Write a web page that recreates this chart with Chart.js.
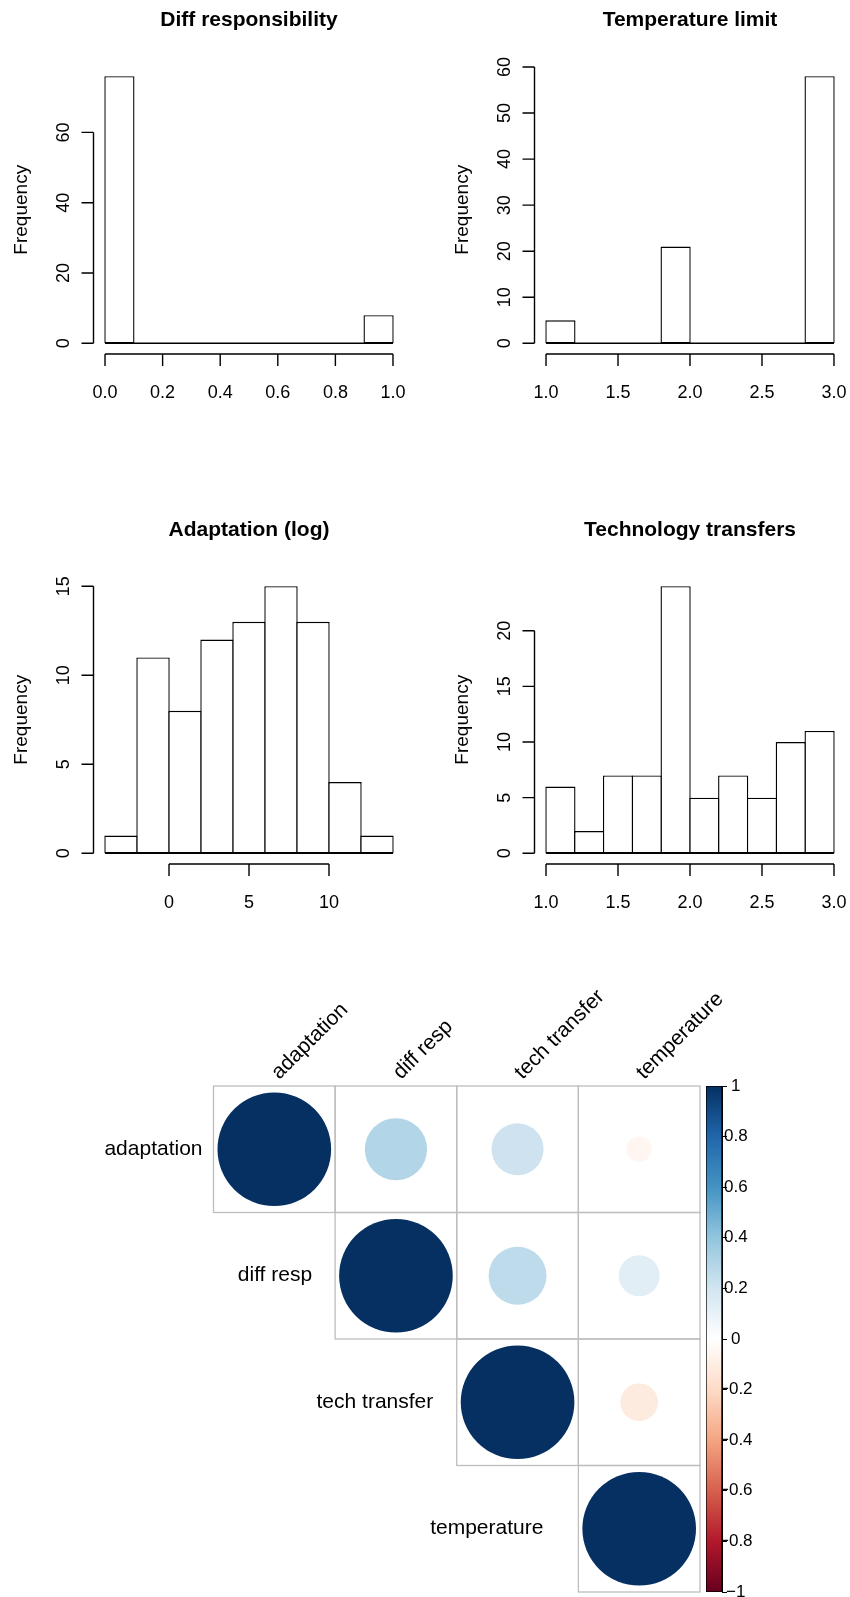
<!DOCTYPE html>
<html>
<head>
<meta charset="utf-8">
<script src="https://cdn.jsdelivr.net/npm/chart.js@4.4.1/dist/chart.umd.min.js"></script>
<style>
  html, body { margin: 0; padding: 0; background: #fff; overflow: hidden; }
  body { position: relative; width: 850px; height: 1597px; }
  canvas { position: absolute; }
</style>
</head>
<body>
<canvas id="histDiff" width="425" height="440" style="left:0px;top:0px"></canvas>
<canvas id="histTemp" width="425" height="440" style="left:425px;top:0px"></canvas>
<canvas id="histAdapt" width="425" height="440" style="left:0px;top:510px"></canvas>
<canvas id="histTech" width="425" height="440" style="left:425px;top:510px"></canvas>
<canvas id="corrPlot" width="850" height="657" style="left:0px;top:940px"></canvas>
<canvas id="corrBar" width="150" height="560" style="left:700px;top:1060px"></canvas>
<script>
// histogram data (breaks, counts, axis ticks)
const diffBreaks = [0, 0.1, 0.2, 0.3, 0.4, 0.5, 0.6, 0.7, 0.8, 0.9, 1.0];
const diffCounts = [76, 0, 0, 0, 0, 0, 0, 0, 0, 8];
const diffXTicks = [0, 0.2, 0.4, 0.6, 0.8, 1.0];
const diffXLabels = ['0.0', '0.2', '0.4', '0.6', '0.8', '1.0'];
const diffYTicks = [0, 20, 40, 60];

const tempBreaks = [1.0, 1.2, 1.4, 1.6, 1.8, 2.0, 2.2, 2.4, 2.6, 2.8, 3.0];
const tempCounts = [5, 0, 0, 0, 21, 0, 0, 0, 0, 58];
const tempXTicks = [1.0, 1.5, 2.0, 2.5, 3.0];
const tempXLabels = ['1.0', '1.5', '2.0', '2.5', '3.0'];
const tempYTicks = [0, 10, 20, 30, 40, 50, 60];

const adaptBreaks = [-4, -2, 0, 2, 4, 6, 8, 10, 12, 14];
const adaptCounts = [1, 11, 8, 12, 13, 15, 13, 4, 1];
const adaptXTicks = [0, 5, 10];
const adaptXLabels = ['0', '5', '10'];
const adaptYTicks = [0, 5, 10, 15];

const techBreaks = [1.0, 1.2, 1.4, 1.6, 1.8, 2.0, 2.2, 2.4, 2.6, 2.8, 3.0];
const techCounts = [6, 2, 7, 7, 24, 5, 7, 5, 10, 11];
const techXTicks = [1.0, 1.5, 2.0, 2.5, 3.0];
const techXLabels = ['1.0', '1.5', '2.0', '2.5', '3.0'];
const techYTicks = [0, 5, 10, 15, 20];

// correlation matrix
const corrVars = ['adaptation', 'diff resp', 'tech transfer', 'temperature'];
const corrAdaptation = [1.00, 0.30, 0.21, -0.05];
const corrDiffResp = [0.30, 1.00, 0.26, 0.13];
const corrTechTransfer = [0.21, 0.26, 1.00, -0.11];
const corrTemperature = [-0.05, 0.13, -0.11, 1.00];
const colorTicks = [-1, -0.8, -0.6, -0.4, -0.2, 0, 0.2, 0.4, 0.6, 0.8, 1];

const rdbu = ['#67001F', '#B2182B', '#D6604D', '#F4A582', '#FDDBC7', '#FFFFFF',
  '#D1E5F0', '#92C5DE', '#4393C3', '#2166AC', '#053061'];

const FONT = '"Liberation Sans", Arial, Helvetica, sans-serif';
Chart.defaults.font.family = FONT;
Chart.defaults.color = '#000';
Chart.defaults.animation = false;
Chart.defaults.events = [];
Chart.defaults.plugins.legend.display = false;
Chart.defaults.plugins.tooltip.enabled = false;

const LW = 1.4;
const AREA_W = 311;

// R style axes, title and y label
const rAxes = {
  id: 'rAxes',
  afterDraw(chart, args, o) {
    const {ctx, chartArea: a, scales: {x, y}} = chart;
    ctx.save();
    ctx.strokeStyle = '#000';
    ctx.fillStyle = '#000';
    ctx.lineWidth = LW;

    // x axis
    const xs = o.xTicks.map(v => x.getPixelForValue(v));
    ctx.beginPath();
    ctx.moveTo(xs[0], a.bottom);
    ctx.lineTo(xs[xs.length - 1], a.bottom);
    xs.forEach(px => { ctx.moveTo(px, a.bottom); ctx.lineTo(px, a.bottom + 12); });
    // y axis
    const ys = o.yTicks.map(v => y.getPixelForValue(v));
    ctx.moveTo(a.left, ys[0]);
    ctx.lineTo(a.left, ys[ys.length - 1]);
    ys.forEach(py => { ctx.moveTo(a.left, py); ctx.lineTo(a.left - 12, py); });
    ctx.stroke();

    ctx.font = '18px ' + FONT;
    ctx.textAlign = 'center';
    ctx.textBaseline = 'alphabetic';
    xs.forEach((px, i) => ctx.fillText(o.xLabels[i], px, a.bottom + 44));
    ys.forEach((py, i) => {
      ctx.save();
      ctx.translate(a.left - 24.5, py);
      ctx.rotate(-Math.PI / 2);
      ctx.fillText(String(o.yTicks[i]), 0, 0);
      ctx.restore();
    });

    ctx.save();
    ctx.font = '19px ' + FONT;
    ctx.translate(a.left - 66.5, (a.top + a.bottom) / 2);
    ctx.rotate(-Math.PI / 2);
    ctx.fillText('Frequency', 0, 0);
    ctx.restore();

    ctx.font = 'bold 21px ' + FONT;
    ctx.fillText(o.title, (a.left + a.right) / 2, a.top - 39.5);
    ctx.restore();
  }
};

function makeHist(id, title, breaks, counts, xTicks, xLabels, yTicks, padLeft) {
  const b0 = breaks[0], bn = breaks[breaks.length - 1];
  const xr = bn - b0;
  const maxC = Math.max(...counts);
  const binW = breaks[1] - breaks[0];
  const canvas = document.getElementById(id);
  return new Chart(canvas, {
    type: 'bar',
    data: {
      datasets: [
        {
          type: 'line',
          data: [{x: b0, y: 0}, {x: bn, y: 0}],
          borderColor: '#000',
          borderWidth: LW,
          pointRadius: 0,
          order: 0,
        },
        {
          data: counts.map((c, k) => ({x: (breaks[k] + breaks[k + 1]) / 2, y: c})),
          backgroundColor: '#fff',
          borderColor: '#000',
          borderWidth: LW,
          borderSkipped: false,
          categoryPercentage: 1,
          barPercentage: 1 + LW * (xr * 1.08) / (binW * AREA_W),
          order: 1,
        },
      ],
    },
    options: {
      responsive: false,
      layout: {
        padding: {left: padLeft, right: canvas.width - padLeft - AREA_W, top: 65.5, bottom: canvas.height - 354},
      },
      scales: {
        x: {
          type: 'linear',
          display: false,
          offset: false,
          grid: {offset: false},
          min: b0 - 0.04 * xr,
          max: bn + 0.04 * xr,
          afterBuildTicks: s => { s.ticks = xTicks.map(v => ({value: v})); },
        },
        y: {
          type: 'linear',
          display: false,
          min: -0.04 * maxC,
          max: 1.04 * maxC,
        },
      },
      plugins: {
        rAxes: {title, xTicks, xLabels, yTicks},
      },
    },
    plugins: [rAxes],
  });
}

makeHist('histDiff', 'Diff responsibility', diffBreaks, diffCounts, diffXTicks, diffXLabels, diffYTicks, 93.5);
makeHist('histTemp', 'Temperature limit', tempBreaks, tempCounts, tempXTicks, tempXLabels, tempYTicks, 109.5);
makeHist('histAdapt', 'Adaptation (log)', adaptBreaks, adaptCounts, adaptXTicks, adaptXLabels, adaptYTicks, 93.5);
makeHist('histTech', 'Technology transfers', techBreaks, techCounts, techXTicks, techXLabels, techYTicks, 109.5);

// --- correlation plot ---
function hexToRgb(h) {
  return [parseInt(h.slice(1, 3), 16), parseInt(h.slice(3, 5), 16), parseInt(h.slice(5, 7), 16)];
}
function colorFor(v) {
  const t = (v + 1) / 2 * (rdbu.length - 1);
  const i = Math.min(Math.floor(t), rdbu.length - 2);
  const f = t - i;
  const c0 = hexToRgb(rdbu[i]), c1 = hexToRgb(rdbu[i + 1]);
  const c = c0.map((a, k) => Math.round(a + (c1[k] - a) * f));
  return 'rgb(' + c.join(',') + ')';
}

const corrRows = [corrAdaptation, corrDiffResp, corrTechTransfer, corrTemperature];
const corrPoints = [];
corrRows.forEach((row, i) => {
  row.forEach((v, j) => {
    if (j >= i) corrPoints.push({x: j + 1, y: i + 1, v: v});
  });
});

const rowLabelGap = [11, 23, 23.5, 35];

const corrDecor = {
  id: 'corrDecor',
  beforeDatasetsDraw(chart) {
    const {ctx, scales: {x, y}} = chart;
    ctx.save();
    ctx.strokeStyle = '#BEBEBE';
    ctx.lineWidth = 1.3;
    corrVars.forEach((_, i) => {
      for (let j = i; j < corrVars.length; j++) {
        const x0 = x.getPixelForValue(j + 0.5), x1 = x.getPixelForValue(j + 1.5);
        const y0 = y.getPixelForValue(i + 0.5), y1 = y.getPixelForValue(i + 1.5);
        ctx.strokeRect(x0, y0, x1 - x0, y1 - y0);
      }
    });
    ctx.restore();
  },
  afterDraw(chart) {
    const {ctx, chartArea: a, scales: {x, y}} = chart;
    ctx.save();
    ctx.fillStyle = '#000';
    ctx.font = '21px ' + FONT;
    ctx.textBaseline = 'alphabetic';
    ctx.textAlign = 'right';
    corrVars.forEach((name, i) => {
      ctx.fillText(name, x.getPixelForValue(i + 0.5) - rowLabelGap[i], y.getPixelForValue(i + 1) + 5.5);
    });
    ctx.textAlign = 'left';
    corrVars.forEach((name, j) => {
      ctx.save();
      ctx.translate(x.getPixelForValue(j + 1) + 5, a.top - 6);
      ctx.rotate(-Math.PI / 4);
      ctx.fillText(name, 0, 0);
      ctx.restore();
    });
    ctx.restore();
  }
};

function corrValue(ctx) {
  return ctx && ctx.raw && typeof ctx.raw.v === 'number' ? ctx.raw.v : 0;
}
function corrRadius(ctx) {
  const sc = ctx.chart.scales;
  if (!sc || !sc.x || !sc.y) return 0;
  const cw = Math.abs(sc.x.getPixelForValue(1.5) - sc.x.getPixelForValue(0.5));
  const ch = Math.abs(sc.y.getPixelForValue(1.5) - sc.y.getPixelForValue(0.5));
  const r = 0.458 * (cw + ch) / 2 * Math.sqrt(Math.abs(corrValue(ctx)));
  return isFinite(r) ? r : 0;
}

new Chart(document.getElementById('corrPlot'), {
  type: 'scatter',
  data: {
    datasets: [{
      data: corrPoints,
      showLine: false,
      clip: false,
      pointStyle: 'circle',
      pointBorderWidth: 0,
      pointHoverBorderWidth: 0,
      pointBackgroundColor: ctx => colorFor(corrValue(ctx)),
      pointHoverBackgroundColor: ctx => colorFor(corrValue(ctx)),
      pointBorderColor: 'rgba(0,0,0,0)',
      pointRadius: corrRadius,
      pointHoverRadius: corrRadius,
      pointHitRadius: 0,
    }],
  },
  options: {
    responsive: false,
    layout: {padding: {left: 213.5, right: 150, top: 146, bottom: 5}},
    scales: {
      x: {type: 'linear', display: false, min: 0.5, max: 4.5},
      y: {type: 'linear', display: false, min: 0.5, max: 4.5, reverse: true},
    },
  },
  plugins: [corrDecor],
});

// colour legend
new Chart(document.getElementById('corrBar'), {
  type: 'bar',
  data: {
    labels: [''],
    datasets: [{
      data: [[colorTicks[0], colorTicks[colorTicks.length - 1]]],
      backgroundColor: ctx => {
        const chart = ctx.chart;
        const ys = chart.scales.y;
        if (!ys || !chart.chartArea) return rdbu[rdbu.length - 1];
        const g = chart.ctx.createLinearGradient(0, ys.getPixelForValue(-1), 0, ys.getPixelForValue(1));
        rdbu.forEach((c, i) => g.addColorStop(i / (rdbu.length - 1), c));
        return g;
      },
      borderColor: '#000',
      borderWidth: 1,
      borderSkipped: false,
      barPercentage: 1,
      categoryPercentage: 1,
    }],
  },
  options: {
    responsive: false,
    layout: {padding: {left: 6, right: 0, top: 26, bottom: 28}},
    scales: {
      x: {display: false},
      y: {
        position: 'right',
        min: -1,
        max: 1,
        afterBuildTicks: s => { s.ticks = colorTicks.map(v => ({value: v})); },
        afterFit: s => { s.width = 128; },
        border: {display: true, color: '#000', width: 1},
        grid: {drawOnChartArea: false, drawTicks: true, tickLength: 5, color: '#000', lineWidth: 1},
        ticks: {
          font: {size: 17},
          color: '#000',
          crossAlign: 'center',
          padding: -8,
          callback: v => (v === 0 ? '0' : (v < 0 ? '\u2212' : '') + String(Math.abs(v))),
        },
      },
    },
  },
});
</script>
</body>
</html>
